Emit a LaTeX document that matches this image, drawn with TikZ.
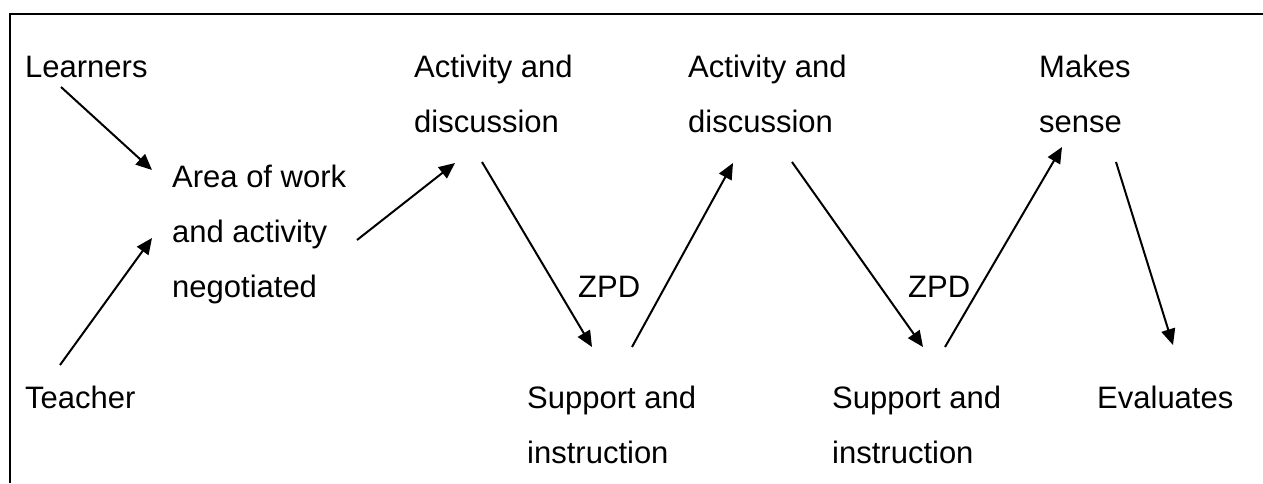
\documentclass[tikz,border=0pt]{standalone}
\usepackage{fontspec}
\setmainfont{Liberation Sans}
\usepackage{tikz}
\usetikzlibrary{calc,arrows.meta}

\begin{document}
\begin{tikzpicture}[x=1pt,y=-1pt,
    lbl/.style={anchor=base west, inner sep=0, align=left,
        font=\fontsize{31}{55}\selectfont},
    arr/.style={line width=2pt, -{Triangle[length=16pt,width=14pt]}}]
    \useasboundingbox (0,0) rectangle (1263,483);
    \begin{scope} % Frame
        \draw[line width=2.5pt] (10,483) -- (10,14) -- (1263,14);
    \end{scope}
    \begin{scope} % Labels (base = last line)
        \node[lbl] (learn) at (25,77) {Learners};
        \node[lbl] (teach) at (25,408) {Teacher};
        \node[lbl] (area) at (172,297) {Area of work\\and activity\\negotiated};
        \node[lbl] (act1) at (414,132) {Activity and\\discussion};
        \node[lbl] (act2) at (688,132) {Activity and\\discussion};
        \node[lbl] (sense) at (1039,132) {Makes\\sense};
        \node[lbl] (sup1) at (527,463) {Support and\\instruction};
        \node[lbl] (sup2) at (832,463) {Support and\\instruction};
        \node[lbl] (eval) at (1097,408) {Evaluates};
        \node[lbl] (zpd1) at (578,297) {ZPD};
        \node[lbl] (zpd2) at (908,297) {ZPD};
    \end{scope}
    \begin{scope} % Arrows
        \draw[arr] ([shift={(36,10)}]learn.base west) -- 
            ([shift={(-20,-127)}]area.base west);
        \draw[arr] ([shift={(35,-43)}]teach.base west) -- 
            ([shift={(-20,-59)}]area.base west);
        \draw[arr] ([shift={(185,-57)}]area.base west) -- 
            ([shift={(41,31)}]act1.base west);
        \draw[arr] ([shift={(68,30)}]act1.base west) -- 
            ([shift={(65,-116)}]sup1.base west);
        \draw[arr] ([shift={(105,-116)}]sup1.base west) -- 
            ([shift={(45,31)}]act2.base west);
        \draw[arr] ([shift={(104,30)}]act2.base west) -- 
            ([shift={(91,-116)}]sup2.base west);
        \draw[arr] ([shift={(113,-116)}]sup2.base west) -- 
            ([shift={(23,15)}]sense.base west);
        \draw[arr] ([shift={(77,30)}]sense.base west) -- 
            ([shift={(76,-63)}]eval.base west);
    \end{scope}
\end{tikzpicture}
\end{document}
